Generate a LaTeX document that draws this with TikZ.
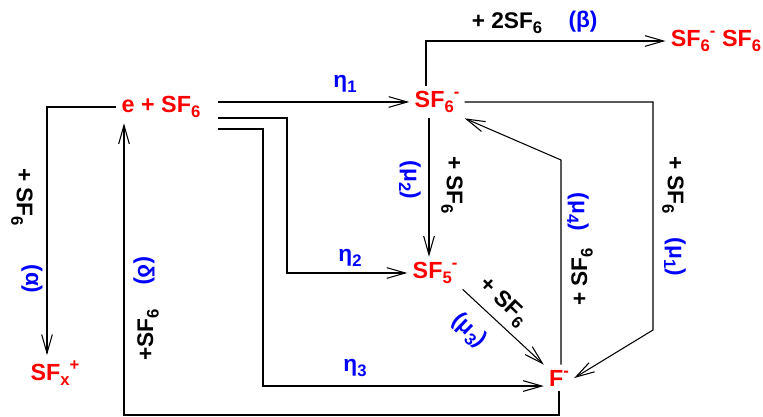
\documentclass[tikz,border=0pt]{standalone}
\usepackage{fontspec}
\setmainfont{Liberation Sans}
\usetikzlibrary{arrows.meta}
\definecolor{spred}{HTML}{FF0000}
\definecolor{rblue}{HTML}{0000FF}
\newcommand\lo[1]{\raisebox{-.45ex}{\fontsize{12.5}{12.5}\selectfont#1}}
\newcommand\hi[1]{\raisebox{.8ex}{\fontsize{12.5}{12.5}\selectfont#1}}
\tikzset{>={Straight Barb[length=14pt,width=8pt]},spc/.style={text=spred,font=\fontsize{17.5}{17.5}\selectfont\bfseries,inner sep=0pt,outer sep=4pt},lbl/.style={font=\fontsize{17}{17}\selectfont\bfseries,inner sep=0pt},rate/.style={lbl,text=rblue},arr/.style={->,line width=.8pt}}

\begin{document}
\begin{tikzpicture}[x=.75pt,y=-.75pt]
\useasboundingbox (0,0) rectangle (763,417);
\node[spc] (eSF) at (161,107) {e + SF\lo{6}};
\node[spc] (sf6) at (437,102) {SF\lo{6}\hi{-}};
\node[spc] (dim) at (716,41) {SF\lo{6}\hi{-} SF\lo{6}};
\node[spc] (sf5) at (435,273) {SF\lo{5}\hi{-}};
\node[spc] (fm) at (559,378) {F\hi{-}};
\node[spc] (sfx) at (55,373) {SF\lo{x}\hi{+}};
\coordinate (la) at (47,0);
\coordinate (ld) at (124,415);
\coordinate (l2) at (287,0);
\coordinate (l3) at (263,0);
\coordinate (lb) at (426,0);
\coordinate (m2) at (429,0);
\coordinate (l4) at (561,160);
\coordinate (r1) at (653,330);
\draw[arr] (eSF.west) -| (la |- sfx.north);
\draw[arr] (eSF.east) ++(12,-5) -- (sf6.west);
\draw[arr] (eSF.east) ++(12,11) -| (l2 |- sf5.west) -- (sf5.west);
\draw[arr] (eSF.east) ++(12,22) -| (l3 |- fm.base west) -- (fm.base west);
\draw[arr] (fm.south) |- (ld) -- (ld |- eSF.south);
\draw[arr] (lb |- sf6.north) |- (dim.west);
\draw[arr] (m2 |- sf6.south) -- (m2 |- sf5.north);
\draw[arr] (sf5.south east) -- (fm.north west);
\draw[arr] (fm.north -| l4) -- (l4) -- (sf6.south east);
\draw[arr] (sf6.east) -| (r1) -- (fm.east);
\node[lbl,rotate=-90] (a1) at (22,197) {+ SF\lo{6}};
\node[rate,rotate=-90] (a2) at (32,279) {(α)};
\node[rate,rotate=-90] (d1) at (144,271) {(δ)};
\node[lbl,rotate=90] (d2) at (148,335) {+SF\lo{6}};
\node[rate] (h1) at (345,84) {η\lo{1}};
\node[rate] (h2) at (350,258) {η\lo{2}};
\node[rate] (h3) at (355,368) {η\lo{3}};
\node[lbl] (b1) at (507,23) {+ 2SF\lo{6}};
\node[rate] (b2) at (583,22) {(β)};
\node[rate,rotate=-90] (u2a) at (410,180) {(μ\lo{2})};
\node[lbl,rotate=-90] (u2b) at (452,185) {+ SF\lo{6}};
\node[lbl,rotate=-44] (u3b) at (503,302) {+ SF\lo{6}};
\node[rate,rotate=-44] (u3a) at (469,331) {(μ\lo{3})};
\node[rate,rotate=-90] (u4a) at (578,212) {(μ\lo{4})};
\node[lbl,rotate=90] (u4b) at (582,277) {+ SF\lo{6}};
\node[lbl,rotate=-90] (u1b) at (673,185) {+ SF\lo{6}};
\node[rate,rotate=-90] (u1a) at (675,257) {(μ\lo{1})};
\end{tikzpicture}
\end{document}
